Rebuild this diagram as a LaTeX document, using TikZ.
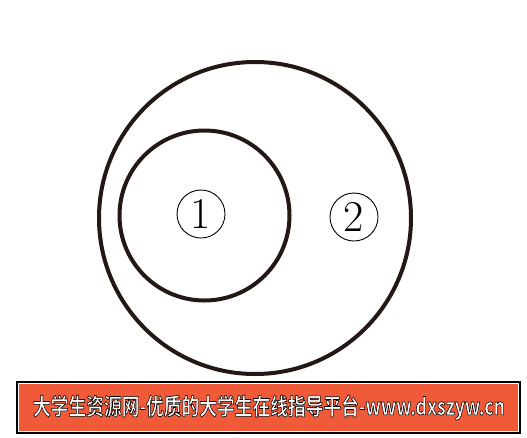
\documentclass[tikz,border=0pt]{standalone}
\usepackage{fontspec}
\newfontfamily\cjk{Noto Sans CJK SC}[BoldFont={* Bold}]
\definecolor{ink}{HTML}{231815}
\definecolor{banner}{HTML}{F05A38}
\newcommand{\outlinedtext}[1]{\special{pdf:code q 2 Tr 0.55 w 0 0 0 RG}#1\special{pdf:code Q}}
\tikzset{
  ring/.style={draw=ink, line width=4pt},
  cnum/.style={circle, draw=black, line width=0.9pt, minimum size=48pt, inner sep=0pt,
     font=\fontsize{44}{44}\selectfont},
}
\begin{document}
\begin{tikzpicture}[x=1pt,y=-1pt]
\useasboundingbox[fill=white] (0,0) rectangle (527,437);
\node[ring, circle, minimum size=312pt, inner sep=0pt] (outer) at (255,218) {};
\node[ring, circle, minimum size=170pt, inner sep=0pt] (inner) at (204.5,215.5) {};
\node[cnum] (n1) at (201,214) {1};
\node[cnum] (n2) at (354,217) {2};
\node[draw=black, line width=2pt, fill=banner, minimum width=503pt, minimum height=51pt, inner sep=0pt] (bn) at (268.5,407) {};
\draw[white, line width=0.8pt] ([shift={(2.5,-2.5)}]bn.south west) rectangle ([shift={(-2.5,2.5)}]bn.north east);
\node[text=white, inner sep=0pt] (bt) at (269,407.5)
  {\resizebox{472pt}{20pt}{\cjk\bfseries\fontsize{20}{20}\selectfont\color{white}\outlinedtext{大学生资源网-优质的大学生在线指导平台-www.dxszyw.cn}}};
\end{tikzpicture}
\end{document}
